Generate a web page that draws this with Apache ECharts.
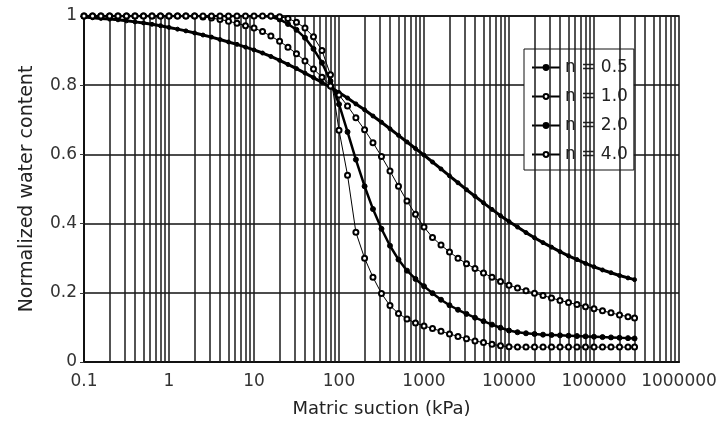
<!DOCTYPE html>
<html>
<head>
<meta charset="utf-8">
<script src="https://cdn.jsdelivr.net/npm/echarts@6/dist/echarts.min.js"></script>
<style>
  html, body { margin: 0; padding: 0; background: #fff; }
  #chart { width: 725px; height: 423px; }
</style>
</head>
<body>
<div id="chart"></div>
<script>
// Matric suction sample points (kPa)
const suction = [
  0.1, 0.126, 0.158, 0.2, 0.251, 0.316, 0.398, 0.501, 0.631, 0.794,
  1, 1.26, 1.58, 2, 2.51, 3.16, 3.98, 5.01, 6.31, 7.94,
  10, 12.6, 15.8, 20, 25.1, 31.6, 39.8, 50.1, 63.1, 79.4,
  100, 126, 158, 200, 251, 316, 398, 501, 631, 794,
  1000, 1259, 1585, 1995, 2512, 3162, 3981, 5012, 6310, 7943,
  10000, 12589, 15849, 19953, 25119, 31623, 39811, 50119, 63096, 79433,
  100000, 125893, 158489, 199526, 251189, 300000
];

// Normalized water content for each n
const wc_n05 = [
  0.997, 0.995, 0.993, 0.991, 0.989, 0.986, 0.983, 0.980, 0.976, 0.972,
  0.967, 0.962, 0.957, 0.951, 0.945, 0.939, 0.932, 0.925, 0.918, 0.910,
  0.902, 0.893, 0.883, 0.872, 0.860, 0.848, 0.835, 0.822, 0.808, 0.794,
  0.779, 0.763, 0.746, 0.729, 0.711, 0.693, 0.674, 0.655, 0.636, 0.617,
  0.598, 0.578, 0.558, 0.538, 0.518, 0.498, 0.479, 0.460, 0.441, 0.423,
  0.406, 0.390, 0.374, 0.359, 0.345, 0.332, 0.319, 0.307, 0.296, 0.285,
  0.275, 0.266, 0.258, 0.250, 0.243, 0.238
];
const wc_n10 = [
  1.000, 1.000, 1.000, 1.000, 1.000, 1.000, 1.000, 1.000, 1.000, 1.000,
  1.000, 1.000, 1.000, 1.000, 0.997, 0.994, 0.990, 0.985, 0.979, 0.972,
  0.965, 0.955, 0.942, 0.927, 0.910, 0.891, 0.870, 0.847, 0.823, 0.798,
  0.772, 0.740, 0.706, 0.671, 0.634, 0.594, 0.552, 0.508, 0.465, 0.427,
  0.390, 0.360, 0.338, 0.318, 0.300, 0.284, 0.270, 0.257, 0.245, 0.233,
  0.222, 0.214, 0.206, 0.199, 0.192, 0.185, 0.178, 0.172, 0.166, 0.160,
  0.154, 0.148, 0.142, 0.136, 0.131, 0.127
];
const wc_n20 = [
  1.000, 1.000, 1.000, 1.000, 1.000, 1.000, 1.000, 1.000, 1.000, 1.000,
  1.000, 1.000, 1.000, 1.000, 1.000, 1.000, 1.000, 1.000, 1.000, 1.000,
  1.000, 1.000, 0.998, 0.990, 0.977, 0.960, 0.937, 0.905, 0.865, 0.812,
  0.745, 0.665, 0.585, 0.508, 0.442, 0.385, 0.336, 0.296, 0.264, 0.240,
  0.219, 0.199, 0.180, 0.164, 0.151, 0.139, 0.128, 0.118, 0.108, 0.099,
  0.091, 0.086, 0.083, 0.081, 0.079, 0.078, 0.077, 0.076, 0.075, 0.074,
  0.073, 0.072, 0.071, 0.070, 0.069, 0.068
];
const wc_n40 = [
  1.000, 1.000, 1.000, 1.000, 1.000, 1.000, 1.000, 1.000, 1.000, 1.000,
  1.000, 1.000, 1.000, 1.000, 1.000, 1.000, 1.000, 1.000, 1.000, 1.000,
  1.000, 1.000, 1.000, 0.998, 0.993, 0.982, 0.965, 0.940, 0.900, 0.830,
  0.670, 0.540, 0.375, 0.300, 0.245, 0.198, 0.163, 0.140, 0.124, 0.113,
  0.104, 0.097, 0.089, 0.081, 0.074, 0.067, 0.061, 0.056, 0.051, 0.047,
  0.044, 0.043, 0.043, 0.043, 0.043, 0.043, 0.043, 0.043, 0.043, 0.043,
  0.043, 0.043, 0.043, 0.043, 0.043, 0.043
];

const seriesNames = ['n = 0.5', 'n = 1.0', 'n = 2.0', 'n = 4.0'];

// Vertical log-cycle grid: 1..9 x 10^k
const gridDecades = [-1, 0, 1, 2, 3, 4, 5];
const gridMultipliers = [1, 2, 3, 4, 5, 6, 7, 8, 9];

const FONT = 'DejaVu Sans';
const INK = '#1a1a1a';

const logGrid = [];
gridDecades.forEach(function (k) {
  gridMultipliers.forEach(function (m) {
    const v = parseFloat((m * Math.pow(10, k)).toPrecision(6));
    if (v > 0.1 && v < 1000000) logGrid.push({ xAxis: v });
  });
});

function pairs(ys) {
  return suction.map(function (x, i) { return [x, ys[i]]; });
}

function curve(name, ys, symbol, size, width) {
  return {
    name: name,
    type: 'line',
    data: pairs(ys),
    z: 5,
    symbol: symbol,
    symbolSize: size,
    showAllSymbol: true,
    smooth: false,
    lineStyle: { color: '#000', width: width },
    itemStyle: { color: '#000', borderColor: '#000', borderWidth: 1 },
    emphasis: { disabled: true },
    animation: false
  };
}

const chart = echarts.init(document.getElementById('chart'), null, { renderer: 'canvas' });

chart.setOption({
  animation: false,
  backgroundColor: '#fff',
  textStyle: { fontFamily: FONT },
  grid: {
    left: 84, right: 46, top: 16, bottom: 61,
    show: true, borderColor: '#111', borderWidth: 1.5, backgroundColor: 'transparent'
  },
  legend: {
    orient: 'vertical',
    left: 524, top: 49,
    data: seriesNames,
    padding: [10, 6, 7, 7],
    itemWidth: 28,
    itemHeight: 6,
    itemGap: 12,
    backgroundColor: '#fff',
    borderColor: '#111',
    borderWidth: 1,
    borderRadius: 0,
    textStyle: { fontFamily: FONT, fontSize: 17, color: '#222', lineHeight: 16 }
  },
  xAxis: {
    type: 'log',
    logBase: 10,
    min: 0.1,
    max: 1000000,
    interval: 1,
    name: 'Matric suction (kPa)',
    nameLocation: 'middle',
    nameGap: 38,
    nameTextStyle: { fontFamily: FONT, fontSize: 18, color: '#222' },
    axisLine: { show: true, lineStyle: { color: '#111', width: 2 } },
    axisTick: { show: false },
    splitLine: { show: false },
    axisLabel: {
      interval: 0,
      margin: 11,
      fontFamily: FONT, fontSize: 17, color: '#333',
      formatter: function (v) { return String(parseFloat((+v).toPrecision(6))); }
    }
  },
  yAxis: {
    type: 'value',
    min: 0,
    max: 1,
    interval: 0.2,
    name: 'Normalized water content',
    nameLocation: 'middle',
    nameGap: 47,
    nameTextStyle: { fontFamily: FONT, fontSize: 19, color: '#222' },
    axisLine: { show: true, lineStyle: { color: '#111', width: 2 } },
    axisTick: { show: true, inside: false, length: 4, lineStyle: { color: '#333', width: 1 } },
    splitLine: { show: true, lineStyle: { color: '#111', width: 1.5 } },
    axisLabel: {
      margin: 7,
      fontFamily: FONT, fontSize: 17, color: '#333',
      formatter: function (v) { return String(parseFloat((+v).toFixed(1))); }
    }
  },
  series: [
    {
      name: 'grid',
      type: 'line',
      data: [],
      z: 1,
      silent: true,
      markLine: {
        silent: true,
        symbol: 'none',
        label: { show: false },
        animation: false,
        lineStyle: { color: INK, width: 1.5, type: 'solid' },
        emphasis: { disabled: true },
        data: logGrid
      }
    },
    curve(seriesNames[0], wc_n05, 'circle', 4, 3),
    curve(seriesNames[1], wc_n10, 'emptyCircle', 5, 1),
    curve(seriesNames[2], wc_n20, 'circle', 5, 2.5),
    curve(seriesNames[3], wc_n40, 'emptyCircle', 5, 1)
  ]
});
</script>
</body>
</html>
